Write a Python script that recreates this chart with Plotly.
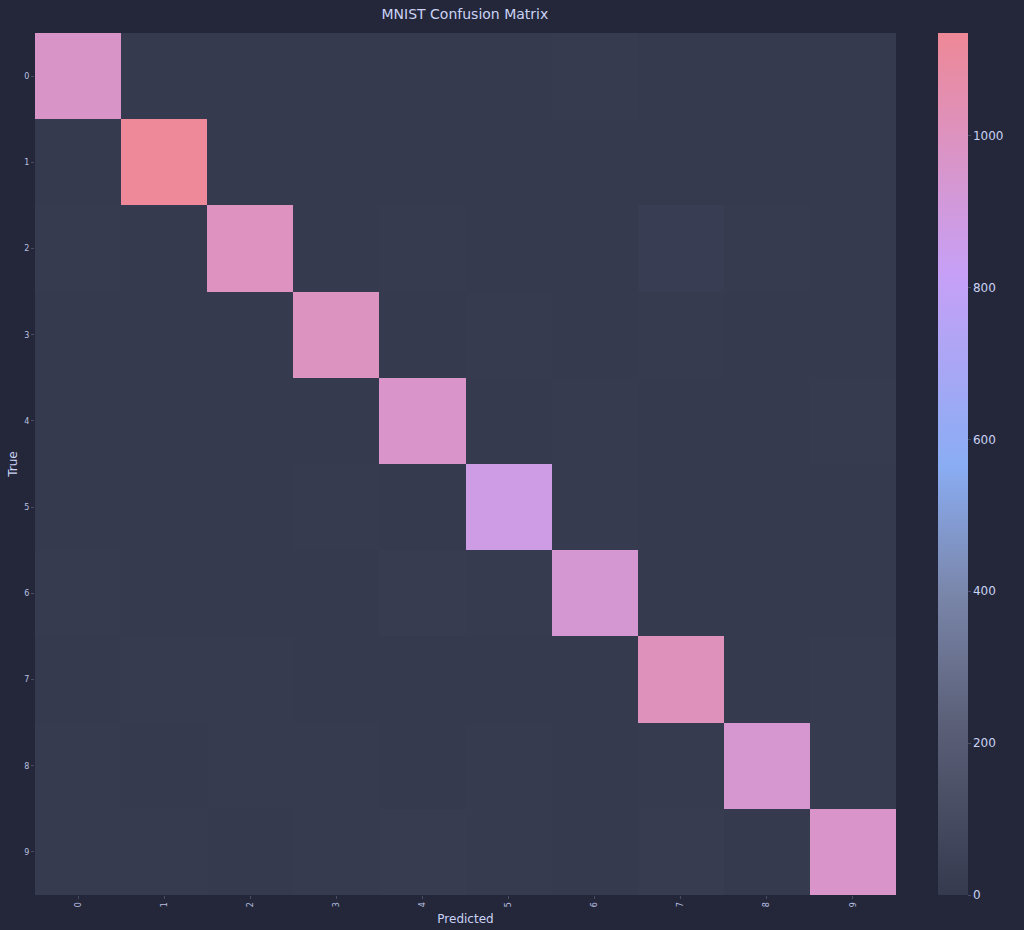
import plotly.graph_objects as go

labels = ["0", "1", "2", "3", "4", "5", "6", "7", "8", "9"]

# rows = true label, columns = predicted label
conf = [
    [972, 0, 1, 0, 0, 2, 3, 1, 1, 0],
    [0, 1126, 2, 1, 0, 1, 2, 1, 2, 0],
    [3, 1, 998, 2, 3, 0, 2, 20, 3, 0],
    [0, 0, 2, 995, 0, 3, 0, 3, 2, 1],
    [1, 0, 2, 0, 966, 0, 3, 2, 1, 3],
    [2, 0, 0, 4, 1, 873, 3, 1, 2, 2],
    [3, 2, 0, 0, 9, 3, 937, 0, 2, 0],
    [1, 3, 3, 2, 1, 0, 0, 1011, 1, 3],
    [7, 1, 3, 3, 2, 3, 2, 3, 943, 3],
    [3, 3, 0, 3, 11, 5, 1, 9, 0, 967],
]

colorscale = [
    [0.0, "#363a4f"],
    [0.2, "#5b6078"],
    [0.35, "#7a86aa"],
    [0.5, "#8aadf4"],
    [0.72, "#c6a0f6"],
    [1.0, "#ee8896"],
]

fig = go.Figure(
    go.Heatmap(
        z=conf,
        x=labels,
        y=labels,
        colorscale=colorscale,
        zmin=0,
        zmax=1135,
        colorbar=dict(
            thickness=30,
            len=1.0,
            lenmode="fraction",
            x=(938 - 35) / 861,
            xref="paper",
            xpad=0,
            xanchor="left",
            y=0.5,
            yanchor="middle",
            ypad=0,
            outlinewidth=0,
            tickvals=[0, 200, 400, 600, 800, 1000],
            tickfont=dict(size=12, color="#cad3f5"),
            ticks="outside",
            ticklen=3,
            tickcolor="#494d64",
        ),
    )
)

fig.update_layout(
    width=1024,
    height=930,
    paper_bgcolor="#24273a",
    plot_bgcolor="#24273a",
    font=dict(family="DejaVu Sans", color="#cad3f5"),
    title=dict(
        text="MNIST Confusion Matrix",
        x=0.454,
        xanchor="center",
        y=0.985,
        yanchor="middle",
        font=dict(size=14, color="#cad3f5"),
    ),
    margin=dict(l=35, r=128, t=33, b=35),
    xaxis=dict(
        title=dict(text="Predicted", font=dict(size=12, color="#cad3f5"), standoff=8),
        tickangle=-90,
        tickfont=dict(size=8, color="#b8c0e0"),
        ticks="outside",
        ticklen=3,
        tickcolor="#494d64",
        showgrid=False,
        zeroline=False,
        type="category",
        automargin=False,
    ),
    yaxis=dict(
        title=dict(text="True", font=dict(size=12, color="#cad3f5"), standoff=4),
        autorange="reversed",
        tickfont=dict(size=8, color="#b8c0e0"),
        ticks="outside",
        ticklen=3,
        tickcolor="#494d64",
        showgrid=False,
        zeroline=False,
        type="category",
        automargin=False,
    ),
)

fig.write_html(
    "out.html",
    config={"displayModeBar": False},
    post_script="document.body.style.margin='0';document.body.style.background='#24273a';",
)
